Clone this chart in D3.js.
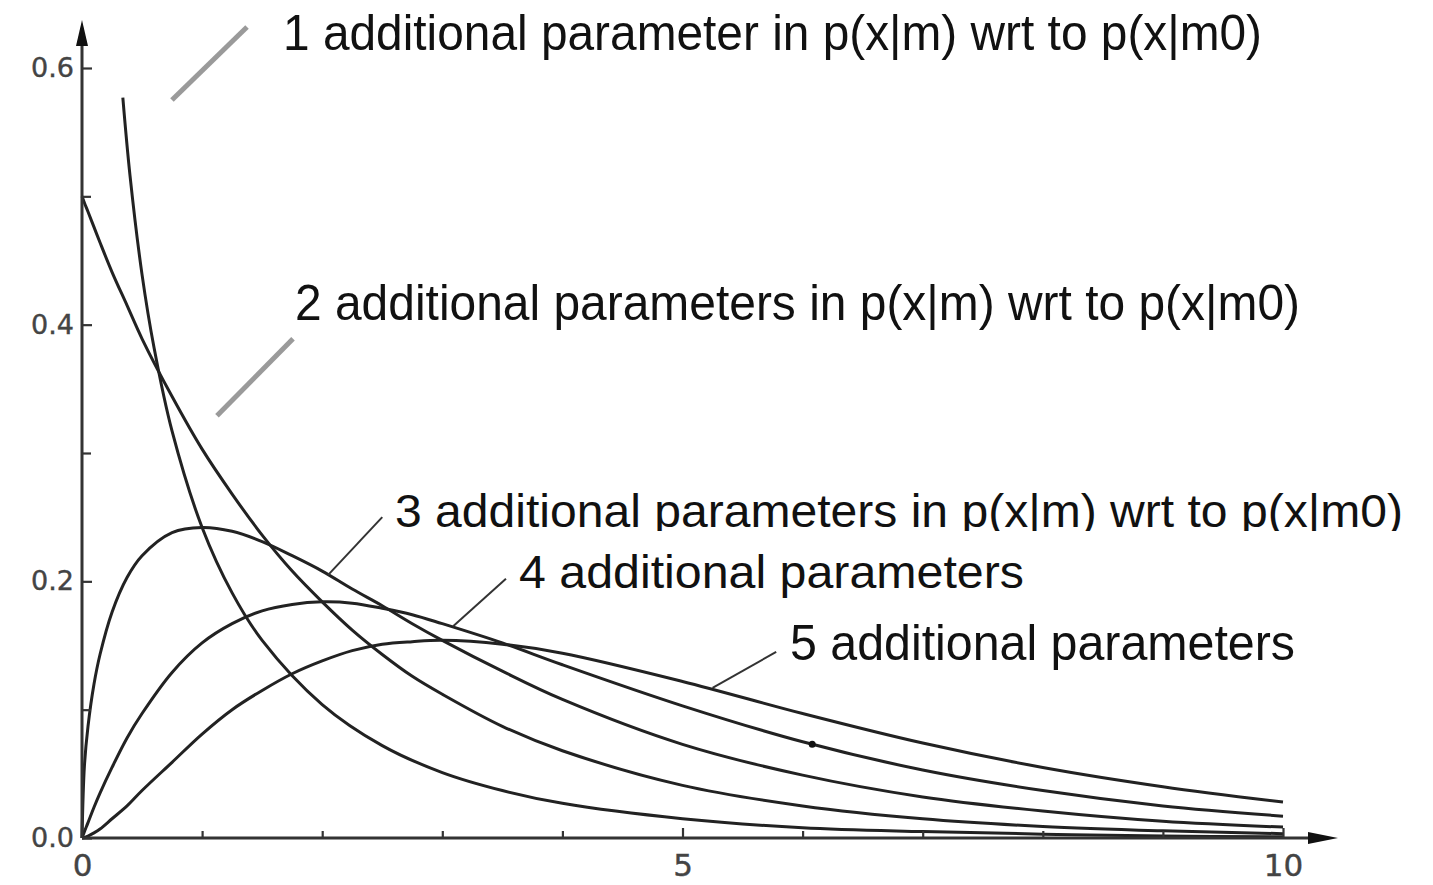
<!DOCTYPE html>
<html>
<head>
<meta charset="utf-8">
<script src="https://cdn.jsdelivr.net/npm/d3@7"></script>
<style>
  html, body { margin: 0; padding: 0; background: #fff; }
  svg { display: block; }
  .curve { fill: none; stroke: #222; stroke-width: 3; }
  .axis-line { stroke: #333; stroke-width: 3; }
  .tick line { stroke: #333; stroke-width: 2.2; }
  .tick text { font-family: "DejaVu Sans", sans-serif; fill: #444; stroke: #444; stroke-width: 0.4; }
  .leader { stroke: #333; stroke-width: 2; }
  .slash { stroke: #9a9a9a; stroke-width: 5; }
  .note { font-family: "Liberation Sans", Arial, sans-serif; fill: #111; }
</style>
</head>
<body>
<svg id="chart" width="1433" height="885"></svg>
<script>
// Curve samples (density vs x)
const xsOne   = [0.34, 0.4, 0.5, 0.6, 0.75, 1, 1.25, 1.5, 2, 2.5, 3, 3.5, 4, 5, 6, 7, 8, 9, 10];
const densOne = [0.577, 0.516, 0.439, 0.382, 0.317, 0.242, 0.191, 0.154, 0.104, 0.072, 0.051, 0.037, 0.027, 0.015, 0.008, 0.005, 0.003, 0.0015, 0.0009];

const xsRest    = [0, 0.02, 0.05, 0.1, 0.15, 0.25, 0.375, 0.5, 0.75, 1, 1.25, 1.5, 1.75, 2, 2.25, 2.5, 2.75, 3, 3.5, 4, 5, 6, 7, 8, 9, 10];
const densTwo   = [0.500, 0.495, 0.488, 0.476, 0.464, 0.441, 0.415, 0.389, 0.344, 0.303, 0.268, 0.236, 0.208, 0.184, 0.162, 0.143, 0.126, 0.112, 0.087, 0.068, 0.041, 0.025, 0.015, 0.009, 0.0056, 0.0034];
const densThree = [0, 0.056, 0.087, 0.120, 0.143, 0.176, 0.203, 0.220, 0.238, 0.242, 0.239, 0.231, 0.220, 0.208, 0.194, 0.181, 0.167, 0.154, 0.130, 0.108, 0.073, 0.049, 0.032, 0.021, 0.013, 0.0085];
const densFour  = [0, 0.005, 0.012, 0.024, 0.035, 0.055, 0.078, 0.097, 0.129, 0.152, 0.167, 0.177, 0.182, 0.184, 0.183, 0.179, 0.174, 0.167, 0.152, 0.135, 0.103, 0.075, 0.053, 0.037, 0.025, 0.017];
const densFive  = [0, 0.0004, 0.0015, 0.004, 0.007, 0.015, 0.025, 0.037, 0.059, 0.081, 0.100, 0.115, 0.128, 0.138, 0.146, 0.151, 0.153, 0.154, 0.151, 0.144, 0.122, 0.097, 0.074, 0.055, 0.040, 0.028];

// Ticks
const yMajor = [0, 0.2, 0.4, 0.6];
const yMinor = [0.1, 0.3, 0.5];
const xMajor = [0, 5, 10];
const xMinor = [1, 2, 3, 4, 6, 7, 8, 9];

// Labels and where their leader lines touch the curves (data coords)
const noteTexts = [
    "1 additional parameter in p(x|m) wrt to p(x|m0)",
    "2 additional parameters in p(x|m) wrt to p(x|m0)",
    "3 additional parameters in p(x|m) wrt to p(x|m0)",
    "4 additional parameters",
    "5 additional parameters"
];
const leaderTargets = [[2.05, 0.205], [3.09, 0.165], [5.25, 0.117]];
const leaderStarts  = [[2.50, 0.250], [3.53, 0.202], [5.78, 0.145]];
const slashes = [[[1.374, 0.632], [0.749, 0.575]], [[1.757, 0.389], [1.124, 0.329]]];

const svg = d3.select("#chart");
const x = d3.scaleLinear().domain([0, 10]).range([82, 1283]);
const y = d3.scaleLinear().domain([0, 0.6]).range([838, 68]);

const line = d3.line()
    .x(d => x(d[0]))
    .y(d => y(d[1]))
    .curve(d3.curveCatmullRom.alpha(0.5));

const series = [
    d3.zip(xsOne, densOne),
    d3.zip(xsRest, densTwo),
    d3.zip(xsRest, densThree),
    d3.zip(xsRest, densFour),
    d3.zip(xsRest, densFive)
];

svg.append("g")
    .selectAll("path")
    .data(series)
    .join("path")
    .attr("class", "curve")
    .attr("d", line);

// speck on the scan, sits on the 4th curve
svg.append("circle")
    .attr("cx", x(6.08)).attr("cy", y(0.073)).attr("r", 3.5)
    .attr("fill", "#111");

// Axis lines with arrows
svg.append("line").attr("class", "axis-line")
    .attr("x1", x(0)).attr("y1", y(0)).attr("x2", x(0)).attr("y2", 40);
svg.append("path")
    .attr("d", `M${x(0)},20 L${x(0) - 6},46 L${x(0) + 6},46 Z`)
    .attr("fill", "#111");
svg.append("line").attr("class", "axis-line")
    .attr("x1", x(0)).attr("y1", y(0)).attr("x2", 1315).attr("y2", y(0));
svg.append("path")
    .attr("d", `M1338,${y(0)} L1308,${y(0) - 6} L1308,${y(0) + 6} Z`)
    .attr("fill", "#111");

// Y ticks
const yAxis = svg.append("g")
    .attr("transform", `translate(${x(0)},0)`)
    .call(d3.axisLeft(y).tickValues(yMajor).tickFormat(d3.format(".1f"))
        .tickSize(-10).tickPadding(8));
yAxis.select(".domain").remove();
yAxis.selectAll("text").attr("font-size", 27).attr("font-family", null);

const yMinorAxis = svg.append("g")
    .attr("transform", `translate(${x(0)},0)`)
    .call(d3.axisLeft(y).tickValues(yMinor).tickFormat("").tickSize(-9));
yMinorAxis.select(".domain").remove();

// X ticks
const xAxis = svg.append("g")
    .attr("transform", `translate(0,${y(0)})`)
    .call(d3.axisBottom(x).tickValues(xMajor).tickFormat(d3.format("d"))
        .tickSize(-10).tickPadding(16));
xAxis.select(".domain").remove();
xAxis.selectAll("text").attr("font-size", 31).attr("font-family", null);
xAxis.selectAll(".tick").filter(d => d === 0).select("line").remove();

const xMinorAxis = svg.append("g")
    .attr("transform", `translate(0,${y(0)})`)
    .call(d3.axisBottom(x).tickValues(xMinor).tickFormat("").tickSize(-7));
xMinorAxis.select(".domain").remove();

// Leader lines from labels to curves
svg.append("g")
    .selectAll("line")
    .data(d3.zip(leaderStarts, leaderTargets))
    .join("line")
    .attr("class", "leader")
    .attr("x1", d => x(d[0][0])).attr("y1", d => y(d[0][1]))
    .attr("x2", d => x(d[1][0])).attr("y2", d => y(d[1][1]));

// Grey slashes pasted over the figure
svg.append("g")
    .selectAll("line")
    .data(slashes)
    .join("line")
    .attr("class", "slash")
    .attr("x1", d => x(d[0][0])).attr("y1", d => y(d[0][1]))
    .attr("x2", d => x(d[1][0])).attr("y2", d => y(d[1][1]));

// Labels; the third one is cut off at the bottom in the original
svg.append("clipPath").attr("id", "cut3")
    .append("rect").attr("x", 0).attr("y", 0).attr("width", 1433).attr("height", 531);

const noteLayout = [
    { left: 283, base: 50,  width: 979,  size: 50 },
    { left: 295, base: 320, width: 1005, size: 50 },
    { left: 395, base: 527, width: 1008, size: 47 },
    { left: 519, base: 588, width: 505,  size: 47 },
    { left: 790, base: 660, width: 505,  size: 50 }
];

svg.append("g")
    .selectAll("text")
    .data(noteTexts)
    .join("text")
    .attr("class", "note")
    .attr("x", (d, i) => noteLayout[i].left)
    .attr("y", (d, i) => noteLayout[i].base)
    .attr("font-size", (d, i) => noteLayout[i].size)
    .attr("textLength", (d, i) => noteLayout[i].width)
    .attr("lengthAdjust", "spacingAndGlyphs")
    .attr("clip-path", (d, i) => i === 2 ? "url(#cut3)" : null)
    .text(d => d);
</script>
</body>
</html>
